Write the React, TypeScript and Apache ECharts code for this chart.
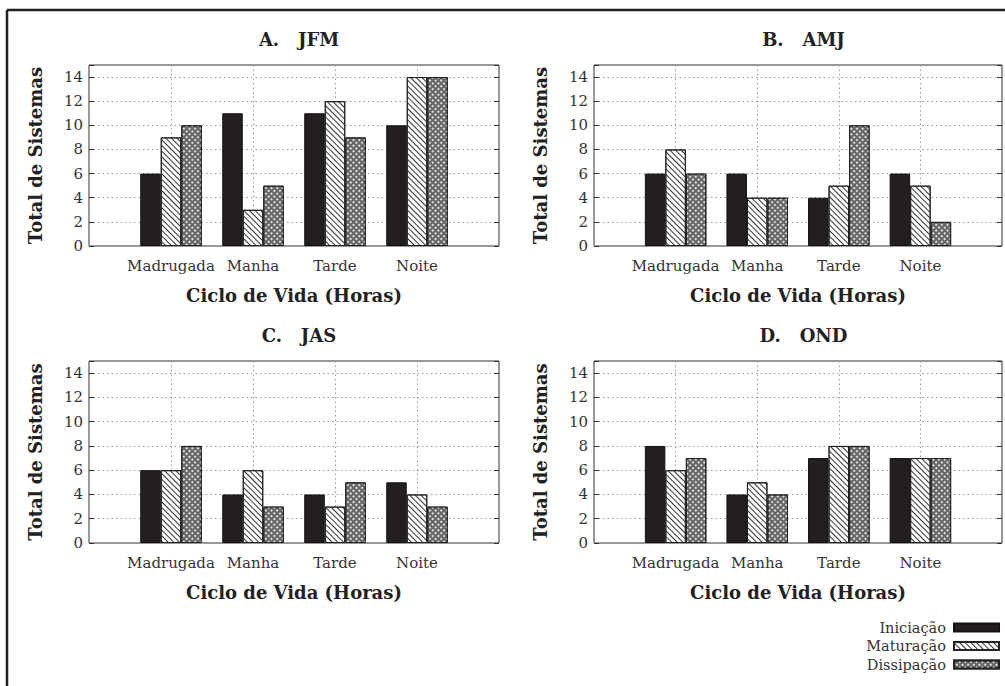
import React, { useEffect, useRef } from "react";
import * as echarts from "echarts";

const categories = ["", "Madrugada", "Manha", "Tarde", "Noite", ""];
const seriesNames = ["Iniciação", "Maturação", "Dissipação"];
const panelTitles = ["A.   JFM", "B.   AMJ", "C.   JAS", "D.   OND"];

const jfmIniciacao = [6, 11, 11, 10];
const jfmMaturacao = [9, 3, 12, 14];
const jfmDissipacao = [10, 5, 9, 14];

const amjIniciacao = [6, 6, 4, 6];
const amjMaturacao = [8, 4, 5, 5];
const amjDissipacao = [6, 4, 10, 2];

const jasIniciacao = [6, 4, 4, 5];
const jasMaturacao = [6, 6, 3, 4];
const jasDissipacao = [8, 3, 5, 3];

const ondIniciacao = [8, 4, 7, 7];
const ondMaturacao = [6, 5, 8, 7];
const ondDissipacao = [7, 4, 8, 7];

const panels = [
  [jfmIniciacao, jfmMaturacao, jfmDissipacao],
  [amjIniciacao, amjMaturacao, amjDissipacao],
  [jasIniciacao, jasMaturacao, jasDissipacao],
  [ondIniciacao, ondMaturacao, ondDissipacao],
];

const FONT = "DejaVu Serif";
const TXT = "#333";

const grids = [
  { left: 89, top: 65, width: 410, height: 181 },
  { left: 594, top: 65, width: 409, height: 181 },
  { left: 89, top: 361, width: 410, height: 182 },
  { left: 594, top: 361, width: 409, height: 182 },
];

const seriesStyles: any[] = [
  { color: "#231f20", borderColor: "#111", borderWidth: 1 },
  {
    color: "#ffffff",
    borderColor: "#222",
    borderWidth: 1,
    decal: {
      symbol: "rect",
      symbolSize: 1,
      color: "#333",
      dashArrayX: [1, 0],
      dashArrayY: [1, 2.2],
      rotation: Math.PI / 4,
    },
  },
  {
    color: "#666666",
    borderColor: "#222",
    borderWidth: 1,
    decal: {
      symbol: "rect",
      symbolSize: 1,
      color: "#dcdcdc",
      dashArrayX: [1.5, 1.5],
      dashArrayY: [1.5, 1.5],
      rotation: Math.PI / 4,
    },
  },
];

function pad(vals: number[]) {
  return [null, ...vals, null];
}

export default function App() {
  const ref = useRef<HTMLDivElement>(null);
  useEffect(() => {
    if (!ref.current) return;
    const chart = echarts.init(ref.current, null, { renderer: "svg" });
    const xAxis: any[] = [];
    const yAxis: any[] = [];
    const series: any[] = [];
    const title: any[] = [];
    grids.forEach((g, i) => {
      xAxis.push({
        type: "category",
        gridIndex: i,
        data: categories,
        boundaryGap: false,
        name: "Ciclo de Vida (Horas)",
        nameLocation: "middle",
        nameGap: 40,
        nameTextStyle: { fontFamily: FONT, fontWeight: "bold", fontSize: 18, color: "#222" },
        axisLine: { show: false },
        axisTick: { show: false },
        axisLabel: { interval: 0, fontFamily: FONT, fontSize: 15, color: TXT, margin: 12 },
        splitLine: { show: true, interval: 0, lineStyle: { type: [1.5, 3], color: "#999", width: 1 } },
      });
      yAxis.push({
        type: "value",
        gridIndex: i,
        min: 0,
        max: 15,
        interval: 2,
        name: "Total de Sistemas",
        nameLocation: "middle",
        nameGap: 45,
        nameTextStyle: { fontFamily: FONT, fontWeight: "bold", fontSize: 18, color: "#222" },
        axisLine: { show: false },
        axisTick: { show: true, inside: true, length: 5, lineStyle: { color: "#333" } },
        axisLabel: {
          fontFamily: FONT,
          fontSize: 15,
          color: TXT,
          margin: 6,
          formatter: (v: number) => (v === 15 ? "" : String(v)),
        },
        splitLine: { show: true, lineStyle: { type: [1.5, 3], color: "#999", width: 1 } },
      });
      yAxis.push({
        type: "value",
        gridIndex: i,
        position: "right",
        min: 0,
        max: 15,
        interval: 2,
        axisLine: { show: false },
        axisTick: { show: true, inside: true, length: 5, lineStyle: { color: "#333" } },
        axisLabel: { show: false },
        splitLine: { show: false },
      });
      title.push({
        text: panelTitles[i],
        left: g.left + g.width / 2,
        top: g.top - 40,
        textAlign: "center",
        textStyle: { fontFamily: FONT, fontWeight: "bold", fontSize: 18, color: "#222" },
      });
      panels[i].forEach((vals, k) => {
        series.push({
          type: "bar",
          name: seriesNames[k],
          xAxisIndex: i,
          yAxisIndex: i * 2,
          data: pad(vals),
          barWidth: 20.5,
          barGap: "0%",
          itemStyle: seriesStyles[k],
          emphasis: { disabled: true },
        });
      });
    });

    chart.setOption({
      animation: false,
      backgroundColor: "#fff",
      title,
      grid: grids.map((g) => ({ ...g, show: true, borderColor: "#333", borderWidth: 1, backgroundColor: "transparent" })),
      xAxis,
      yAxis,
      series,
      legend: {
        data: seriesNames,
        orient: "vertical",
        right: 5,
        top: 620,
        padding: 0,
        align: "right",
        icon: "rect",
        itemWidth: 45,
        itemHeight: 8,
        itemGap: 3.5,
        selectedMode: false,
        textStyle: { fontFamily: FONT, fontSize: 14.5, color: TXT, padding: [0, 3, 0, 0] },
      },
      graphic: [
        { type: "line", shape: { x1: 7, y1: 10, x2: 1005, y2: 10 }, style: { stroke: "#222", lineWidth: 2.5 } },
        { type: "line", shape: { x1: 7, y1: 10, x2: 7, y2: 686 }, style: { stroke: "#222", lineWidth: 2.5 } },
      ],
    });
    return () => chart.dispose();
  }, []);
  return (
    <div
      ref={ref}
      style={{ position: "fixed", left: 0, top: 0, width: 1005, height: 686 }}
    />
  );
}
